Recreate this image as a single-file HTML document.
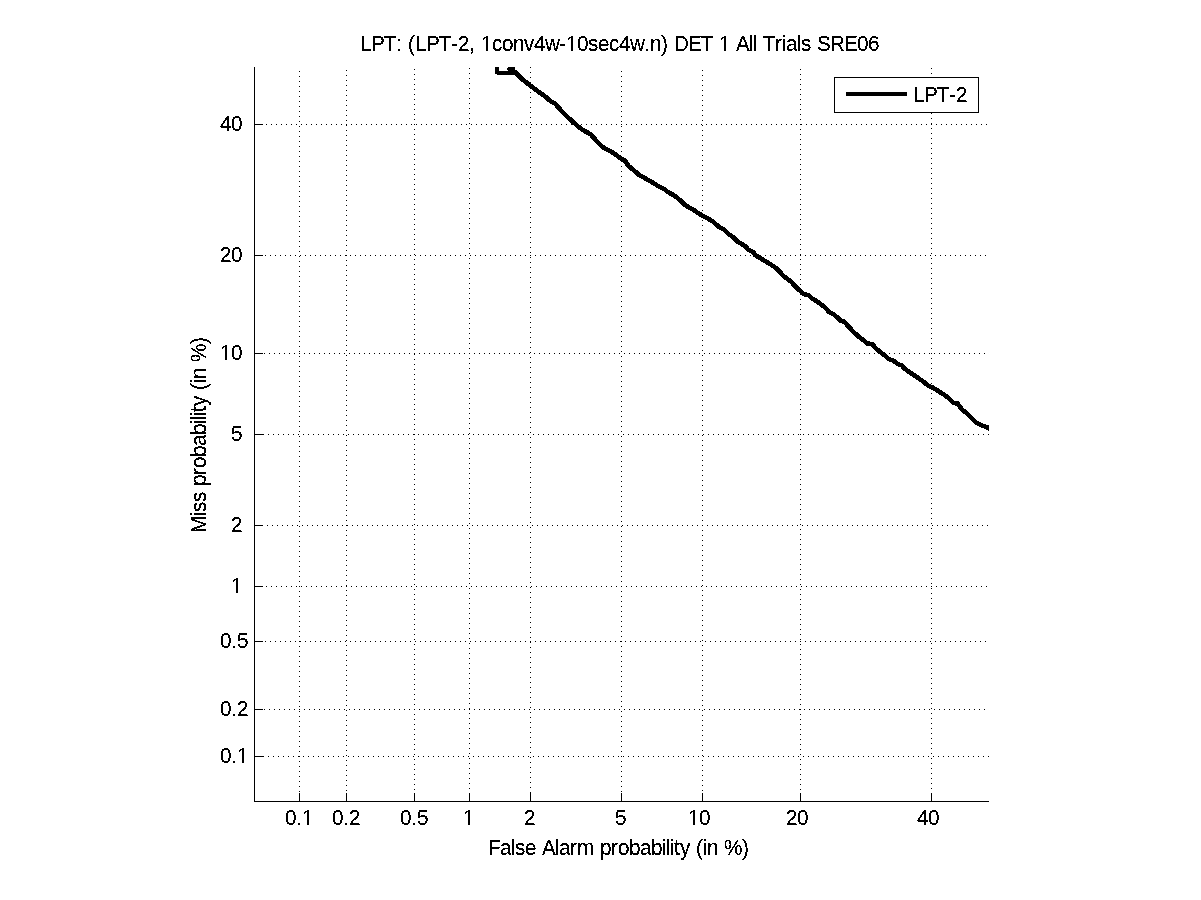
<!DOCTYPE html>
<html lang="en">
<head>
<meta charset="utf-8">
<title>LPT: (LPT-2, 1conv4w-10sec4w.n) DET 1 All Trials SRE06</title>
<style>
html,body{margin:0;padding:0;background:#fff;}
body{width:1201px;height:900px;overflow:hidden;}
svg{display:block;position:absolute;left:0;top:0;}
text{font-family:"Liberation Sans","DejaVu Sans",sans-serif;font-size:21.2px;fill:#000;}
</style>
</head>
<body>
<svg width="1201" height="900" viewBox="0 0 1201 900">
<defs>
<clipPath id="plotclip"><rect x="254" y="67" width="735" height="735"/></clipPath>
<filter id="crisp" filterUnits="userSpaceOnUse" x="0" y="0" width="1201" height="900" color-interpolation-filters="sRGB"><feComponentTransfer><feFuncA type="discrete" tableValues="0 0 0 0 0 0 0 0 1 1 1 1 1 1 1 1 1 1 1 1"/></feComponentTransfer></filter>
</defs>
<rect x="0" y="0" width="1201" height="900" fill="#fff"/>
<g shape-rendering="crispEdges" stroke="#000" stroke-width="1" fill="none" stroke-dasharray="1 4">
<line x1="299.5" y1="71" x2="299.5" y2="801"/>
<line x1="346.5" y1="70" x2="346.5" y2="801"/>
<line x1="414.5" y1="69" x2="414.5" y2="801"/>
<line x1="469.5" y1="68" x2="469.5" y2="801"/>
<line x1="530.5" y1="67" x2="530.5" y2="801"/>
<line x1="621.5" y1="71" x2="621.5" y2="801"/>
<line x1="702.5" y1="70" x2="702.5" y2="801"/>
<line x1="800.5" y1="69" x2="800.5" y2="801"/>
<line x1="931.5" y1="68" x2="931.5" y2="801"/>
<line x1="256" y1="124.5" x2="989" y2="124.5"/>
<line x1="255" y1="255.5" x2="989" y2="255.5"/>
<line x1="259" y1="353.5" x2="989" y2="353.5"/>
<line x1="258" y1="434.5" x2="989" y2="434.5"/>
<line x1="257" y1="525.5" x2="989" y2="525.5"/>
<line x1="256" y1="586.5" x2="989" y2="586.5"/>
<line x1="255" y1="641.5" x2="989" y2="641.5"/>
<line x1="259" y1="709.5" x2="989" y2="709.5"/>
<line x1="258" y1="756.5" x2="989" y2="756.5"/>
</g>
<g clip-path="url(#plotclip)"><polyline points="514.20,71.20 516.50,73.60 521.70,78.75 526.70,82.70 530.00,85.40 538.30,91.50 546.70,97.70 550.80,101.40 555.00,103.50 559.20,108.30 563.30,112.90 571.70,120.80 578.30,126.70 584.20,130.80 590.80,134.30 594.20,138.30 599.20,143.75 603.30,147.50 608.30,150.00 614.20,153.50 620.00,157.90 625.00,160.80 628.30,165.80 633.30,169.80 639.20,175.00 645.00,178.20 653.30,182.90 658.30,186.25 664.20,189.00 668.30,192.30 674.20,195.40 680.00,200.20 685.00,205.00 689.20,207.50 693.30,209.60 698.30,213.30 704.20,216.50 710.00,219.80 714.20,222.50 718.30,226.50 724.20,229.60 728.30,234.00 733.30,237.10 738.30,242.10 745.00,246.00 748.30,249.60 753.30,252.10 755.00,255.00 760.00,257.90 765.00,261.00 770.00,264.00 775.00,267.30 779.20,271.25 783.30,275.70 787.50,279.00 791.70,282.30 795.80,286.80 800.00,290.70 804.20,294.30 808.30,295.00 812.50,298.75 816.70,301.25 820.80,304.20 825.00,307.50 829.20,312.10 833.30,314.20 837.50,317.50 840.00,320.40 844.20,321.70 849.20,327.10 853.30,331.80 858.30,336.25 863.30,340.00 867.50,343.50 872.50,344.30 875.80,348.50 880.00,351.80 884.20,355.00 888.30,358.75 893.30,360.70 898.30,364.20 901.70,365.40 905.00,369.00 910.00,372.50 915.00,375.80 920.00,379.30 925.00,382.90 928.30,385.80 933.30,387.90 938.30,391.00 943.30,394.20 948.30,397.90 953.30,402.90 957.50,403.50 961.70,409.30 966.70,413.30 971.70,418.30 976.70,422.90 981.70,425.40 986.70,427.10 991.00,429.50" fill="none" stroke="#000" stroke-width="4.6" stroke-linejoin="round" stroke-linecap="butt" shape-rendering="crispEdges"/></g>
<g shape-rendering="crispEdges" fill="#000"><rect x="495" y="67" width="4" height="7"/><rect x="497" y="71" width="20" height="4"/><rect x="508" y="67" width="7" height="4"/><rect x="507" y="68" width="1" height="2"/></g>
<g shape-rendering="crispEdges" fill="#000">
<rect x="254" y="67" width="1" height="735"/>
<rect x="254" y="801" width="735" height="1"/>
<rect x="299" y="793" width="1" height="8"/>
<rect x="346" y="793" width="1" height="8"/>
<rect x="414" y="793" width="1" height="8"/>
<rect x="469" y="793" width="1" height="8"/>
<rect x="530" y="793" width="1" height="8"/>
<rect x="621" y="793" width="1" height="8"/>
<rect x="702" y="793" width="1" height="8"/>
<rect x="800" y="793" width="1" height="8"/>
<rect x="931" y="793" width="1" height="8"/>
<rect x="255" y="124" width="8" height="1"/>
<rect x="255" y="255" width="8" height="1"/>
<rect x="255" y="353" width="8" height="1"/>
<rect x="255" y="434" width="8" height="1"/>
<rect x="255" y="525" width="8" height="1"/>
<rect x="255" y="586" width="8" height="1"/>
<rect x="255" y="641" width="8" height="1"/>
<rect x="255" y="709" width="8" height="1"/>
<rect x="255" y="756" width="8" height="1"/>
</g>
<g shape-rendering="crispEdges">
<rect x="834.5" y="77.5" width="144" height="35" fill="#fff" stroke="#000" stroke-width="1"/>
<rect x="846" y="92" width="61" height="4" fill="#000"/>
</g>
<g filter="url(#crisp)">
<text x="369.42 380.71 394.05 406.36 412.52 418.68 425.86 437.15 450.49 462.80 469.98 481.27 487.43 493.59 504.87 515.14 526.42 537.71 547.97 559.26 573.63 580.81 592.10 603.39 613.65 624.94 635.20 646.49 660.85 667.01 678.30 685.48 691.64 706.00 719.34 731.66 737.81 749.10 755.26 768.60 772.70 776.81 782.97 795.28 802.46 806.57 817.86 821.96 832.22 838.38 851.72 866.09 879.43 890.71" y="0" transform="translate(0,51) scale(0.9745,1)">LPT: (LPT-2, 1conv4w-10sec4w.n) DET 1 All Trials SRE06</text>
<text x="936.89 948.18 961.52 973.83 981.02" y="0" transform="translate(0,102) scale(0.9745,1)">LPT-2</text>
<text x="292.46 303.75 309.90" y="0" transform="translate(0,825) scale(0.9745,1)">0.1</text>
<text x="340.69 351.98 358.13" y="0" transform="translate(0,825) scale(0.9745,1)">0.2</text>
<text x="410.47 421.75 427.91" y="0" transform="translate(0,825) scale(0.9745,1)">0.5</text>
<text x="475.12" y="0" transform="translate(0,825) scale(0.9745,1)">1</text>
<text x="537.71" y="0" transform="translate(0,825) scale(0.9745,1)">2</text>
<text x="631.09" y="0" transform="translate(0,825) scale(0.9745,1)">5</text>
<text x="706.00 717.29" y="0" transform="translate(0,825) scale(0.9745,1)">10</text>
<text x="806.57 817.86" y="0" transform="translate(0,825) scale(0.9745,1)">20</text>
<text x="941.00 952.28" y="0" transform="translate(0,825) scale(0.9745,1)">40</text>
<text x="225.76 237.04" y="0" transform="translate(0,131) scale(0.9745,1)">40</text>
<text x="225.76 237.04" y="0" transform="translate(0,262) scale(0.9745,1)">20</text>
<text x="225.76 237.04" y="0" transform="translate(0,360) scale(0.9745,1)">10</text>
<text x="237.04" y="0" transform="translate(0,441) scale(0.9745,1)">5</text>
<text x="237.04" y="0" transform="translate(0,532) scale(0.9745,1)">2</text>
<text x="237.04" y="0" transform="translate(0,593) scale(0.9745,1)">1</text>
<text x="225.76 237.04 243.20" y="0" transform="translate(0,648) scale(0.9745,1)">0.5</text>
<text x="225.76 237.04 243.20" y="0" transform="translate(0,716) scale(0.9745,1)">0.2</text>
<text x="225.76 237.04 243.20" y="0" transform="translate(0,763) scale(0.9745,1)">0.1</text>
<text x="500.77 513.08 524.37 528.48 538.74 550.03 556.18 569.52 573.63 584.92 592.10 609.54 615.70 626.99 634.17 645.46 656.75 668.03 679.32 683.43 687.53 691.64 697.79 708.06 714.21 721.40 725.50 736.79 742.95 761.42" y="0" transform="translate(0,855) scale(0.9745,1)">False Alarm probability (in %)</text>
<text x="0.00 17.44 21.55 31.81 42.07 48.23 59.52 66.70 77.99 89.28 100.56 111.85 115.96 120.06 124.17 130.32 140.58 146.74 153.93 158.03 169.32 175.47 193.95" y="0" transform="translate(206,533) rotate(-90) scale(0.9745,1)">Miss probability (in %)</text>
</g>
<g shape-rendering="crispEdges" fill="#fff">
<rect x="482" y="49" width="4" height="2"/><rect x="488" y="49" width="4" height="2"/>
<rect x="567" y="49" width="4" height="2"/><rect x="573" y="49" width="4" height="2"/>
<rect x="720" y="49" width="4" height="2"/><rect x="726" y="49" width="4" height="2"/>
<rect x="303" y="823" width="4" height="2"/><rect x="309" y="823" width="4" height="2"/>
<rect x="464" y="823" width="4" height="2"/><rect x="470" y="823" width="4" height="2"/>
<rect x="689" y="823" width="4" height="2"/><rect x="695" y="823" width="4" height="2"/>
<rect x="221" y="358" width="4" height="2"/><rect x="227" y="358" width="4" height="2"/>
<rect x="232" y="591" width="4" height="2"/><rect x="238" y="591" width="4" height="2"/>
<rect x="238" y="761" width="4" height="2"/><rect x="244" y="761" width="4" height="2"/>
</g>
</svg>
</body>
</html>
